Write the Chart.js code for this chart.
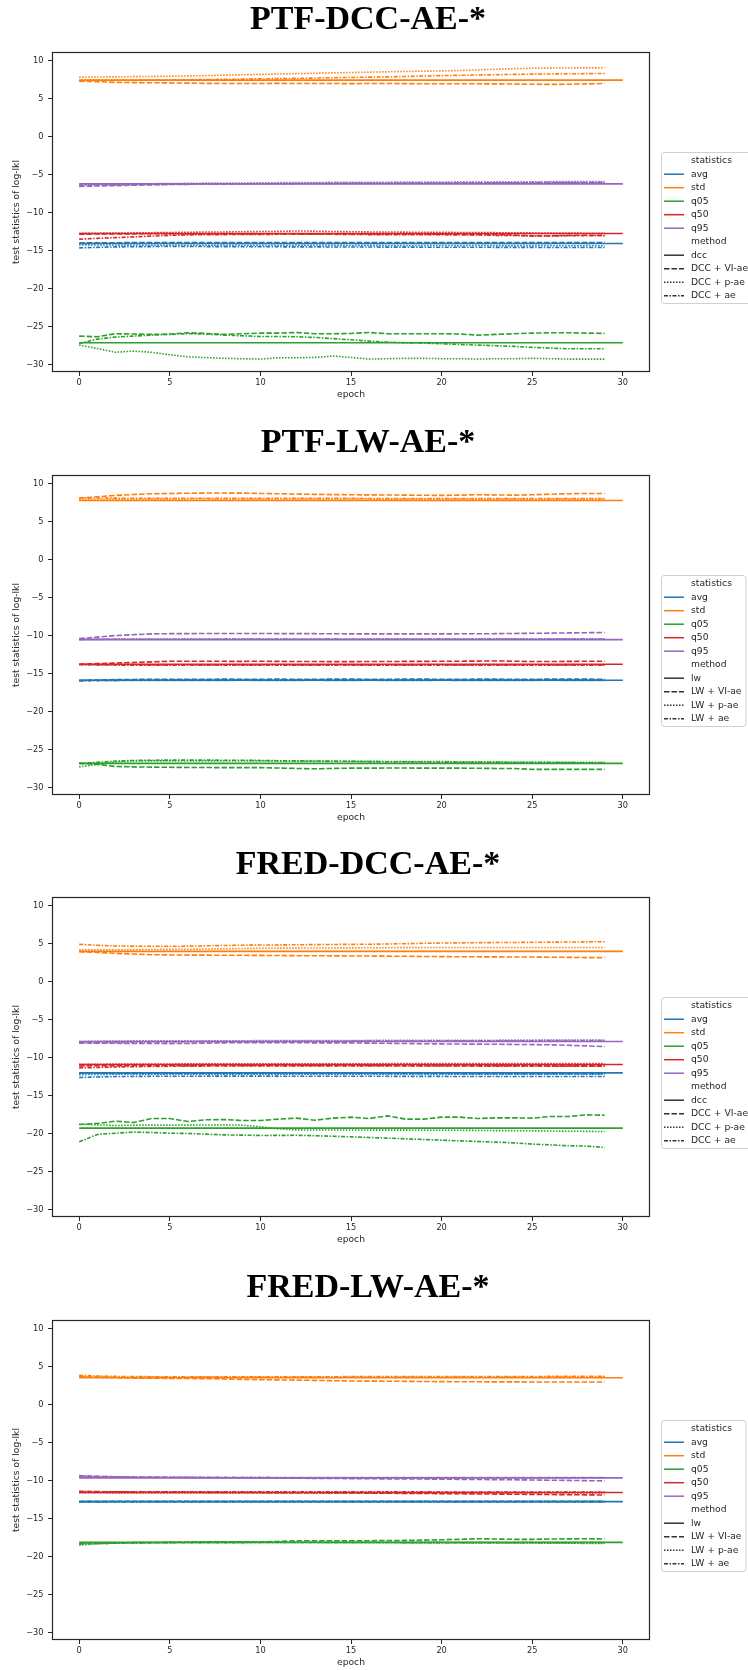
<!DOCTYPE html>
<html>
<head>
<meta charset="utf-8">
<script src="https://cdn.jsdelivr.net/npm/chart.js@4.4.1/dist/chart.umd.min.js"></script>
<style>
  body { margin: 0; background: #fff; width: 748px; height: 1670px; overflow: hidden; position: relative; }
  canvas { position: absolute; left: 0; }
</style>
</head>
<body>
<canvas id="chart0" width="748" height="423" style="top:0px"></canvas>
<canvas id="chart1" width="748" height="423" style="top:423px"></canvas>
<canvas id="chart2" width="748" height="423" style="top:845px"></canvas>
<canvas id="chart3" width="748" height="423" style="top:1268px"></canvas>
<script>
// ---- axes / categories ----
const epochs = [0,1,2,3,4,5,6,7,8,9,10,11,12,13,14,15,16,17,18,19,20,21,22,23,24,25,26,27,28,29];
const baseEpochs = [0, 30];
const xTicks = [0, 5, 10, 15, 20, 25, 30];
const yTicks = [-30, -25, -20, -15, -10, -5, 0, 5, 10];
const statNames = ['avg', 'std', 'q05', 'q50', 'q95'];
const statColors = ['#1f77b4', '#ff7f0e', '#2ca02c', '#d62728', '#9467bd'];
const titles = ['PTF-DCC-AE-*', 'PTF-LW-AE-*', 'FRED-DCC-AE-*', 'FRED-LW-AE-*'];
const dccMethods = ['dcc', 'DCC + VI-ae', 'DCC + p-ae', 'DCC + ae'];
const lwMethods = ['lw', 'LW + VI-ae', 'LW + p-ae', 'LW + ae'];

// ---- PTF-DCC-AE-* ----
// baseline (flat over epochs 0..30): avg, std, q05, q50, q95
const p1Base = [-14.08, 7.45, -27.15, -12.76, -6.22];
const p1AvgVI = [-14.0,-13.98,-13.97,-13.96,-13.95,-13.95,-13.95,-13.94,-13.95,-13.95,-13.94,-13.95,-13.95,-13.94,-13.95,-13.95,-13.94,-13.95,-13.95,-13.95,-13.96,-13.95,-13.95,-13.95,-13.94,-13.95,-13.95,-13.95,-13.94,-13.95];
const p1AvgP = [-14.25,-14.27,-14.28,-14.3,-14.3,-14.3,-14.31,-14.3,-14.3,-14.31,-14.32,-14.3,-14.3,-14.31,-14.32,-14.33,-14.32,-14.33,-14.34,-14.33,-14.34,-14.35,-14.34,-14.35,-14.36,-14.35,-14.36,-14.37,-14.36,-14.37];
const p1AvgAE = [-14.65,-14.58,-14.52,-14.5,-14.48,-14.47,-14.47,-14.48,-14.48,-14.5,-14.5,-14.51,-14.52,-14.52,-14.53,-14.54,-14.54,-14.55,-14.55,-14.56,-14.56,-14.57,-14.57,-14.58,-14.58,-14.59,-14.6,-14.6,-14.6,-14.6];
const p1StdVI = [7.3,7.25,7.15,7.12,7.1,7.08,7.05,7.02,7.0,7.0,7.0,7.02,7.0,7.0,7.0,6.98,7.0,7.0,6.98,6.97,6.97,6.97,6.96,6.95,6.93,6.9,6.88,6.9,6.95,7.0];
const p1StdP = [7.84,7.86,7.88,7.9,7.93,7.97,8.0,8.05,8.1,8.15,8.2,8.25,8.3,8.35,8.4,8.45,8.5,8.54,8.58,8.62,8.66,8.72,8.8,8.88,8.95,9.0,9.03,9.05,9.06,9.07];
const p1StdAE = [7.4,7.42,7.42,7.43,7.45,7.47,7.5,7.52,7.55,7.58,7.62,7.65,7.68,7.72,7.76,7.8,7.84,7.88,7.93,7.98,8.04,8.08,8.12,8.16,8.2,8.23,8.26,8.28,8.3,8.32];
const p1Q05VI = [-26.27,-26.36,-25.96,-26.0,-26.05,-26.0,-25.83,-25.92,-26.05,-25.96,-25.88,-25.88,-25.8,-25.96,-25.96,-25.92,-25.8,-25.96,-25.96,-25.96,-25.96,-26.0,-26.14,-26.05,-25.96,-25.88,-25.83,-25.83,-25.88,-25.92];
const p1Q05P = [-27.46,-27.9,-28.4,-28.25,-28.4,-28.73,-29.0,-29.1,-29.2,-29.25,-29.3,-29.12,-29.12,-29.08,-28.9,-29.08,-29.3,-29.25,-29.2,-29.2,-29.25,-29.25,-29.3,-29.25,-29.25,-29.2,-29.25,-29.3,-29.3,-29.3];
const p1Q05AE = [-27.24,-26.67,-26.4,-26.27,-26.14,-26.05,-25.96,-26.0,-26.14,-26.23,-26.32,-26.32,-26.36,-26.45,-26.6,-26.76,-26.93,-27.06,-27.15,-27.2,-27.28,-27.37,-27.46,-27.54,-27.63,-27.76,-27.85,-27.94,-27.94,-27.94];
const p1Q50VI = [-12.85,-12.82,-12.8,-12.8,-12.78,-12.78,-12.8,-12.8,-12.82,-12.8,-12.8,-12.78,-12.8,-12.8,-12.82,-12.8,-12.8,-12.82,-12.84,-12.85,-12.85,-12.86,-12.88,-12.9,-12.95,-13.05,-13.05,-13.0,-12.98,-12.98];
const p1Q50P = [-12.75,-12.72,-12.7,-12.68,-12.65,-12.62,-12.6,-12.55,-12.55,-12.52,-12.5,-12.48,-12.42,-12.45,-12.5,-12.52,-12.55,-12.55,-12.58,-12.6,-12.6,-12.62,-12.62,-12.65,-12.65,-12.68,-12.7,-12.7,-12.72,-12.72];
const p1Q50AE = [-13.5,-13.4,-13.3,-13.2,-13.1,-13.0,-12.95,-12.9,-12.9,-12.88,-12.88,-12.86,-12.85,-12.85,-12.86,-12.88,-12.9,-12.9,-12.9,-12.92,-12.92,-12.95,-12.95,-13.0,-13.02,-13.1,-13.08,-13.05,-13.05,-13.05];
const p1Q95VI = [-6.55,-6.5,-6.45,-6.4,-6.35,-6.3,-6.28,-6.25,-6.25,-6.22,-6.2,-6.2,-6.18,-6.18,-6.16,-6.15,-6.15,-6.14,-6.13,-6.12,-6.12,-6.1,-6.1,-6.08,-6.07,-6.06,-6.05,-6.05,-6.05,-6.05];
const p1Q95P = [-6.3,-6.28,-6.25,-6.22,-6.2,-6.18,-6.15,-6.12,-6.1,-6.1,-6.08,-6.06,-6.05,-6.04,-6.02,-6.0,-6.0,-6.0,-5.98,-5.98,-5.97,-5.96,-5.95,-5.95,-5.95,-5.94,-5.93,-5.93,-5.92,-5.92];
const p1Q95AE = [-6.4,-6.38,-6.35,-6.32,-6.3,-6.28,-6.25,-6.24,-6.22,-6.2,-6.2,-6.18,-6.17,-6.16,-6.15,-6.14,-6.14,-6.13,-6.12,-6.12,-6.1,-6.1,-6.1,-6.08,-6.08,-6.07,-6.06,-6.05,-6.05,-6.05];

// ---- PTF-LW-AE-* ----
const p2Base = [-15.88, 7.8, -26.84, -13.77, -10.53];
const p2AvgVI = [-15.92,-15.85,-15.8,-15.78,-15.76,-15.75,-15.75,-15.75,-15.74,-15.75,-15.75,-15.74,-15.75,-15.75,-15.74,-15.74,-15.75,-15.75,-15.74,-15.74,-15.75,-15.75,-15.74,-15.74,-15.75,-15.75,-15.74,-15.74,-15.74,-15.75];
const p2AvgP = [-15.9,-15.88,-15.86,-15.85,-15.85,-15.84,-15.84,-15.85,-15.84,-15.84,-15.84,-15.85,-15.84,-15.84,-15.84,-15.85,-15.84,-15.84,-15.83,-15.84,-15.84,-15.84,-15.83,-15.84,-15.84,-15.84,-15.83,-15.83,-15.84,-15.84];
const p2AvgAE = [-15.98,-15.95,-15.93,-15.92,-15.91,-15.9,-15.9,-15.9,-15.9,-15.89,-15.9,-15.9,-15.9,-15.89,-15.9,-15.9,-15.89,-15.9,-15.9,-15.9,-15.89,-15.9,-15.9,-15.9,-15.9,-15.9,-15.89,-15.9,-15.9,-15.9];
const p2StdVI = [8.1,8.28,8.46,8.58,8.68,8.72,8.75,8.77,8.77,8.76,8.72,8.68,8.64,8.6,8.57,8.55,8.53,8.52,8.5,8.48,8.46,8.5,8.55,8.52,8.5,8.55,8.62,8.68,8.72,8.72];
const p2StdP = [7.9,7.92,7.95,7.96,7.97,7.97,7.98,7.98,7.98,7.98,7.99,7.98,7.98,7.98,7.98,7.98,7.98,7.97,7.97,7.97,7.97,7.97,7.97,7.97,7.97,7.97,7.97,7.97,7.97,7.97];
const p2StdAE = [8.15,8.12,8.1,8.09,8.08,8.08,8.08,8.08,8.07,8.07,8.07,8.07,8.07,8.07,8.07,8.07,8.06,8.06,8.06,8.06,8.06,8.06,8.06,8.06,8.06,8.06,8.06,8.06,8.06,8.06];
const p2Q05VI = [-26.84,-26.97,-27.24,-27.3,-27.33,-27.35,-27.37,-27.38,-27.4,-27.4,-27.4,-27.45,-27.5,-27.55,-27.5,-27.46,-27.46,-27.45,-27.45,-27.46,-27.46,-27.46,-27.48,-27.5,-27.5,-27.63,-27.63,-27.63,-27.63,-27.63];
const p2Q05P = [-27.3,-26.97,-26.65,-26.5,-26.5,-26.5,-26.52,-26.52,-26.53,-26.53,-26.53,-26.53,-26.55,-26.55,-26.55,-26.56,-26.57,-26.58,-26.58,-26.6,-26.6,-26.62,-26.63,-26.64,-26.65,-26.66,-26.68,-26.69,-26.7,-26.7];
const p2Q05AE = [-26.84,-26.7,-26.53,-26.45,-26.42,-26.4,-26.4,-26.4,-26.42,-26.42,-26.45,-26.48,-26.5,-26.52,-26.54,-26.57,-26.6,-26.62,-26.63,-26.65,-26.66,-26.68,-26.7,-26.7,-26.72,-26.72,-26.73,-26.74,-26.75,-26.75];
const p2Q50VI = [-13.77,-13.7,-13.62,-13.55,-13.47,-13.38,-13.38,-13.38,-13.39,-13.4,-13.38,-13.4,-13.42,-13.42,-13.43,-13.43,-13.42,-13.42,-13.4,-13.4,-13.38,-13.38,-13.36,-13.34,-13.38,-13.42,-13.42,-13.4,-13.38,-13.38];
const p2Q50P = [-13.82,-13.84,-13.85,-13.85,-13.85,-13.86,-13.85,-13.85,-13.86,-13.86,-13.85,-13.85,-13.86,-13.86,-13.85,-13.85,-13.86,-13.86,-13.86,-13.85,-13.85,-13.86,-13.86,-13.86,-13.85,-13.85,-13.86,-13.86,-13.86,-13.86];
const p2Q50AE = [-13.82,-13.86,-13.88,-13.9,-13.9,-13.9,-13.91,-13.9,-13.9,-13.91,-13.9,-13.9,-13.9,-13.91,-13.9,-13.9,-13.9,-13.91,-13.9,-13.9,-13.9,-13.91,-13.9,-13.9,-13.9,-13.9,-13.91,-13.9,-13.9,-13.9];
const p2Q95VI = [-10.4,-10.2,-10.0,-9.88,-9.78,-9.75,-9.74,-9.73,-9.73,-9.73,-9.73,-9.74,-9.75,-9.75,-9.76,-9.78,-9.78,-9.78,-9.78,-9.78,-9.78,-9.77,-9.76,-9.75,-9.72,-9.7,-9.68,-9.65,-9.62,-9.6];
const p2Q95P = [-10.5,-10.48,-10.46,-10.45,-10.45,-10.45,-10.44,-10.45,-10.45,-10.44,-10.44,-10.45,-10.45,-10.44,-10.44,-10.45,-10.44,-10.44,-10.44,-10.45,-10.44,-10.44,-10.44,-10.43,-10.44,-10.44,-10.43,-10.43,-10.44,-10.43];
const p2Q95AE = [-10.52,-10.5,-10.49,-10.48,-10.48,-10.48,-10.48,-10.48,-10.47,-10.48,-10.48,-10.47,-10.48,-10.48,-10.47,-10.48,-10.48,-10.47,-10.48,-10.47,-10.47,-10.48,-10.47,-10.47,-10.47,-10.48,-10.47,-10.47,-10.47,-10.47];

// ---- FRED-DCC-AE-* ----
const p3Base = [-12.02, 3.99, -19.3, -10.92, -7.89];
const p3AvgVI = [-12.05,-12.07,-12.08,-12.09,-12.1,-12.1,-12.1,-12.1,-12.1,-12.1,-12.1,-12.1,-12.1,-12.1,-12.1,-12.1,-12.1,-12.1,-12.1,-12.1,-12.1,-12.11,-12.11,-12.11,-12.11,-12.11,-12.11,-12.11,-12.11,-12.11];
const p3AvgP = [-12.25,-12.22,-12.2,-12.2,-12.2,-12.2,-12.2,-12.2,-12.2,-12.2,-12.2,-12.2,-12.2,-12.2,-12.2,-12.2,-12.2,-12.2,-12.2,-12.2,-12.2,-12.2,-12.2,-12.2,-12.2,-12.2,-12.2,-12.2,-12.2,-12.2];
const p3AvgAE = [-12.63,-12.55,-12.5,-12.48,-12.47,-12.46,-12.46,-12.45,-12.45,-12.45,-12.45,-12.45,-12.46,-12.46,-12.46,-12.47,-12.47,-12.47,-12.48,-12.48,-12.48,-12.49,-12.49,-12.49,-12.5,-12.5,-12.5,-12.5,-12.5,-12.5];
const p3StdVI = [3.95,3.85,3.73,3.64,3.55,3.52,3.5,3.49,3.48,3.47,3.46,3.44,3.42,3.41,3.4,3.38,3.37,3.36,3.34,3.32,3.3,3.28,3.27,3.26,3.25,3.24,3.22,3.2,3.17,3.15];
const p3StdP = [4.2,4.18,4.2,4.22,4.24,4.25,4.27,4.3,4.33,4.37,4.4,4.41,4.42,4.43,4.44,4.45,4.46,4.47,4.48,4.49,4.5,4.5,4.5,4.5,4.5,4.5,4.5,4.5,4.5,4.5];
const p3StdAE = [4.91,4.8,4.7,4.68,4.66,4.66,4.68,4.72,4.76,4.8,4.82,4.84,4.86,4.88,4.9,4.91,4.93,4.96,5.0,5.05,5.09,5.11,5.13,5.15,5.16,5.18,5.2,5.22,5.24,5.26];
const p3Q05VI = [-18.82,-18.68,-18.38,-18.55,-18.03,-18.03,-18.42,-18.2,-18.16,-18.29,-18.29,-18.11,-17.98,-18.25,-17.98,-17.85,-18.03,-17.68,-18.11,-18.11,-17.85,-17.85,-18.03,-17.94,-17.94,-17.98,-17.76,-17.76,-17.55,-17.59];
const p3Q05P = [-18.77,-18.86,-18.95,-18.9,-18.9,-18.9,-18.9,-18.88,-18.86,-18.9,-19.12,-19.39,-19.52,-19.55,-19.55,-19.55,-19.55,-19.56,-19.56,-19.57,-19.57,-19.58,-19.6,-19.62,-19.63,-19.65,-19.67,-19.7,-19.72,-19.74];
const p3Q05AE = [-21.1,-20.13,-19.96,-19.82,-19.87,-19.96,-20.0,-20.09,-20.18,-20.22,-20.26,-20.25,-20.24,-20.3,-20.36,-20.44,-20.53,-20.61,-20.7,-20.79,-20.88,-20.97,-21.05,-21.14,-21.23,-21.4,-21.5,-21.62,-21.66,-21.84];
const p3Q50VI = [-11.1,-11.08,-11.06,-11.05,-11.04,-11.05,-11.06,-11.05,-11.04,-11.04,-11.05,-11.04,-11.03,-11.03,-11.04,-11.04,-11.04,-11.05,-11.05,-11.06,-11.06,-11.06,-11.07,-11.07,-11.08,-11.08,-11.09,-11.1,-11.1,-11.1];
const p3Q50P = [-10.9,-10.88,-10.86,-10.85,-10.84,-10.84,-10.83,-10.83,-10.83,-10.82,-10.82,-10.82,-10.82,-10.81,-10.81,-10.81,-10.81,-10.8,-10.8,-10.8,-10.8,-10.8,-10.8,-10.8,-10.8,-10.8,-10.8,-10.8,-10.8,-10.8];
const p3Q50AE = [-11.36,-11.3,-11.24,-11.2,-11.17,-11.15,-11.13,-11.12,-11.11,-11.1,-11.1,-11.1,-11.1,-11.1,-11.1,-11.1,-11.1,-11.1,-11.11,-11.11,-11.12,-11.12,-11.12,-11.13,-11.13,-11.13,-11.14,-11.14,-11.14,-11.14];
const p3Q95VI = [-8.07,-8.1,-8.12,-8.14,-8.15,-8.16,-8.14,-8.1,-8.06,-8.04,-8.03,-8.04,-8.05,-8.06,-8.06,-8.07,-8.1,-8.12,-8.15,-8.18,-8.2,-8.22,-8.23,-8.25,-8.27,-8.29,-8.32,-8.38,-8.46,-8.55];
const p3Q95P = [-7.89,-7.85,-7.82,-7.8,-7.8,-7.8,-7.79,-7.78,-7.78,-7.78,-7.77,-7.77,-7.76,-7.76,-7.75,-7.75,-7.74,-7.74,-7.73,-7.73,-7.72,-7.72,-7.71,-7.71,-7.7,-7.7,-7.69,-7.69,-7.68,-7.68];
const p3Q95AE = [-8.1,-8.05,-8.0,-7.98,-7.96,-7.94,-7.92,-7.9,-7.9,-7.89,-7.88,-7.87,-7.86,-7.85,-7.85,-7.84,-7.83,-7.82,-7.82,-7.81,-7.8,-7.8,-7.79,-7.79,-7.78,-7.78,-7.77,-7.77,-7.76,-7.76];

// ---- FRED-LW-AE-* ----
const p4Base = [-12.77, 3.55, -18.14, -11.58, -9.65];
const p4AvgVI = [-12.75,-12.74,-12.73,-12.73,-12.73,-12.73,-12.73,-12.73,-12.73,-12.73,-12.73,-12.73,-12.73,-12.73,-12.73,-12.73,-12.73,-12.73,-12.73,-12.73,-12.73,-12.73,-12.73,-12.73,-12.73,-12.73,-12.73,-12.73,-12.73,-12.73];
const p4AvgP = [-12.78,-12.77,-12.77,-12.77,-12.77,-12.77,-12.77,-12.77,-12.77,-12.77,-12.77,-12.77,-12.77,-12.77,-12.77,-12.77,-12.77,-12.77,-12.77,-12.77,-12.77,-12.77,-12.77,-12.77,-12.77,-12.77,-12.77,-12.77,-12.77,-12.77];
const p4AvgAE = [-12.82,-12.81,-12.8,-12.8,-12.8,-12.8,-12.8,-12.8,-12.8,-12.8,-12.8,-12.8,-12.8,-12.8,-12.8,-12.8,-12.8,-12.8,-12.8,-12.8,-12.8,-12.8,-12.8,-12.8,-12.8,-12.8,-12.8,-12.8,-12.8,-12.8];
const p4StdVI = [3.73,3.62,3.55,3.5,3.48,3.46,3.44,3.42,3.38,3.33,3.29,3.26,3.23,3.2,3.15,3.11,3.1,3.09,3.07,3.05,3.03,3.02,3.01,3.0,3.0,2.99,2.99,2.98,2.98,2.98];
const p4StdP = [3.66,3.64,3.63,3.62,3.62,3.62,3.62,3.62,3.62,3.62,3.62,3.62,3.62,3.62,3.62,3.62,3.62,3.62,3.62,3.62,3.62,3.62,3.62,3.62,3.62,3.62,3.62,3.62,3.62,3.62];
const p4StdAE = [3.86,3.78,3.72,3.7,3.68,3.68,3.68,3.68,3.68,3.68,3.68,3.68,3.68,3.68,3.68,3.69,3.69,3.69,3.69,3.7,3.7,3.7,3.7,3.71,3.71,3.71,3.72,3.72,3.73,3.73];
const p4Q05VI = [-18.28,-18.25,-18.2,-18.18,-18.16,-18.14,-18.12,-18.08,-18.05,-18.07,-18.1,-18.02,-17.93,-17.93,-17.93,-17.93,-17.92,-17.9,-17.88,-17.84,-17.8,-17.74,-17.66,-17.7,-17.74,-17.74,-17.7,-17.68,-17.66,-17.7];
const p4Q05P = [-18.5,-18.33,-18.22,-18.18,-18.16,-18.14,-18.12,-18.1,-18.1,-18.1,-18.1,-18.11,-18.12,-18.13,-18.14,-18.14,-18.15,-18.16,-18.17,-18.18,-18.18,-18.2,-18.21,-18.22,-18.23,-18.23,-18.25,-18.26,-18.27,-18.28];
const p4Q05AE = [-18.36,-18.3,-18.25,-18.22,-18.2,-18.2,-18.18,-18.18,-18.17,-18.17,-18.16,-18.16,-18.16,-18.16,-18.16,-18.16,-18.16,-18.16,-18.17,-18.17,-18.17,-18.17,-18.17,-18.18,-18.18,-18.18,-18.18,-18.18,-18.18,-18.18];
const p4Q50VI = [-11.45,-11.46,-11.48,-11.5,-11.51,-11.53,-11.54,-11.55,-11.56,-11.57,-11.58,-11.59,-11.6,-11.61,-11.62,-11.64,-11.65,-11.67,-11.69,-11.7,-11.72,-11.74,-11.76,-11.78,-11.8,-11.82,-11.84,-11.86,-11.88,-11.9];
const p4Q50P = [-11.6,-11.61,-11.62,-11.62,-11.62,-11.62,-11.62,-11.62,-11.62,-11.62,-11.62,-11.62,-11.62,-11.62,-11.62,-11.62,-11.62,-11.62,-11.62,-11.62,-11.62,-11.62,-11.62,-11.62,-11.62,-11.62,-11.62,-11.62,-11.62,-11.62];
const p4Q50AE = [-11.45,-11.47,-11.48,-11.49,-11.49,-11.49,-11.49,-11.49,-11.49,-11.49,-11.49,-11.49,-11.49,-11.49,-11.49,-11.49,-11.49,-11.49,-11.49,-11.49,-11.5,-11.5,-11.5,-11.5,-11.5,-11.5,-11.5,-11.5,-11.5,-11.5];
const p4Q95VI = [-9.39,-9.45,-9.5,-9.52,-9.54,-9.56,-9.58,-9.6,-9.62,-9.64,-9.65,-9.67,-9.69,-9.71,-9.73,-9.74,-9.76,-9.78,-9.79,-9.8,-9.82,-9.84,-9.86,-9.88,-9.9,-9.92,-9.95,-9.98,-10.01,-10.04];
const p4Q95P = [-9.47,-9.52,-9.55,-9.57,-9.58,-9.6,-9.6,-9.62,-9.63,-9.64,-9.65,-9.65,-9.65,-9.65,-9.65,-9.65,-9.65,-9.65,-9.64,-9.64,-9.64,-9.64,-9.63,-9.63,-9.63,-9.63,-9.62,-9.62,-9.62,-9.62];
const p4Q95AE = [-9.34,-9.45,-9.5,-9.55,-9.56,-9.57,-9.57,-9.58,-9.58,-9.58,-9.58,-9.59,-9.59,-9.59,-9.59,-9.59,-9.6,-9.6,-9.6,-9.6,-9.6,-9.6,-9.6,-9.6,-9.6,-9.6,-9.6,-9.6,-9.6,-9.6];

// line styles for the method (solid, VI-ae, p-ae, ae)
const methodDashes = [[], [5.5, 2], [1.5, 1.5], [4, 1.5, 1.5, 1.5]];
const textColor = '#262626';

const panels = [
    { title: titles[0], methods: dccMethods, base: p1Base, series: [
        [p1AvgVI, p1AvgP, p1AvgAE], [p1StdVI, p1StdP, p1StdAE], [p1Q05VI, p1Q05P, p1Q05AE],
        [p1Q50VI, p1Q50P, p1Q50AE], [p1Q95VI, p1Q95P, p1Q95AE]] },
    { title: titles[1], methods: lwMethods, base: p2Base, series: [
        [p2AvgVI, p2AvgP, p2AvgAE], [p2StdVI, p2StdP, p2StdAE], [p2Q05VI, p2Q05P, p2Q05AE],
        [p2Q50VI, p2Q50P, p2Q50AE], [p2Q95VI, p2Q95P, p2Q95AE]] },
    { title: titles[2], methods: dccMethods, base: p3Base, series: [
        [p3AvgVI, p3AvgP, p3AvgAE], [p3StdVI, p3StdP, p3StdAE], [p3Q05VI, p3Q05P, p3Q05AE],
        [p3Q50VI, p3Q50P, p3Q50AE], [p3Q95VI, p3Q95P, p3Q95AE]] },
    { title: titles[3], methods: lwMethods, base: p4Base, series: [
        [p4AvgVI, p4AvgP, p4AvgAE], [p4StdVI, p4StdP, p4StdAE], [p4Q05VI, p4Q05P, p4Q05AE],
        [p4Q50VI, p4Q50P, p4Q50AE], [p4Q95VI, p4Q95P, p4Q95AE]] }
];

function fmtTick(v) {
    return v < 0 ? '\u2212' + Math.abs(v) : String(v);
}

// frame, title and the two-section legend (seaborn style)
function decorPlugin(panel) {
    return {
        id: 'decor',
        afterDraw(chart) {
            const { ctx, chartArea: a } = chart;
            ctx.save();
            // spines
            ctx.strokeStyle = textColor;
            ctx.lineWidth = 1.2;
            ctx.strokeRect(Math.round(a.left) + 0.5, Math.round(a.top) + 0.5,
                Math.round(a.right - a.left) - 1, Math.round(a.bottom - a.top) - 1);

            // title
            ctx.fillStyle = '#000';
            ctx.font = 'bold 34px "Liberation Serif", "DejaVu Serif", serif';
            ctx.textAlign = 'center';
            ctx.textBaseline = 'alphabetic';
            ctx.fillText(panel.title, 368, a.top - 23);

            // legend
            const entries = [{ label: 'statistics' }];
            statNames.forEach((s, i) => entries.push({ label: s, color: statColors[i], dash: [] }));
            entries.push({ label: 'method' });
            panel.methods.forEach((m, i) => entries.push({ label: m, color: '#333333', dash: methodDashes[i] }));

            ctx.font = '9.2px "DejaVu Sans", sans-serif';
            let maxW = 0;
            entries.forEach(e => { maxW = Math.max(maxW, ctx.measureText(e.label).width); });
            const bx = 661.5, by = a.top + 100.5, bw = 691 + maxW + 4 - 661, bh = 151;
            ctx.beginPath();
            ctx.roundRect(bx, by, bw, bh, 3);
            ctx.fillStyle = 'rgba(255,255,255,0.85)';
            ctx.fill();
            ctx.strokeStyle = '#d0d0d0';
            ctx.lineWidth = 1;
            ctx.stroke();

            ctx.textAlign = 'left';
            ctx.textBaseline = 'middle';
            entries.forEach((e, i) => {
                const y = a.top + 108.7 + i * 13.5;
                if (e.color) {
                    ctx.beginPath();
                    ctx.setLineDash(e.dash);
                    ctx.strokeStyle = e.color;
                    ctx.lineWidth = 1.5;
                    ctx.moveTo(664, y);
                    ctx.lineTo(684, y);
                    ctx.stroke();
                    ctx.setLineDash([]);
                }
                ctx.fillStyle = textColor;
                ctx.fillText(e.label, 691, y);
            });
            ctx.restore();
        }
    };
}

function buildDatasets(panel) {
    const sets = [];
    statNames.forEach((stat, si) => {
        sets.push({
            label: stat + ' ' + panel.methods[0],
            data: baseEpochs.map(x => ({ x: x, y: panel.base[si] })),
            borderColor: statColors[si],
            borderDash: methodDashes[0]
        });
        panel.series[si].forEach((vals, mi) => {
            sets.push({
                label: stat + ' ' + panel.methods[mi + 1],
                data: vals.map((v, k) => ({ x: epochs[k], y: v })),
                borderColor: statColors[si],
                borderDash: methodDashes[mi + 1]
            });
        });
    });
    return sets;
}

panels.forEach((panel, idx) => {
    const canvas = document.getElementById('chart' + idx);
    new Chart(canvas, {
        type: 'line',
        data: { datasets: buildDatasets(panel) },
        options: {
            responsive: false,
            animation: false,
            events: [],
            layout: { padding: { left: 0, right: 98, top: 52, bottom: 0 } },
            elements: {
                line: { borderWidth: 1.6, tension: 0, fill: false, borderCapStyle: 'butt' },
                point: { radius: 0 }
            },
            plugins: { legend: { display: false }, tooltip: { enabled: false }, title: { display: false } },
            scales: {
                x: {
                    type: 'linear',
                    min: -1.5,
                    max: 31.5,
                    afterBuildTicks: s => { s.ticks = xTicks.map(v => ({ value: v })); },
                    afterFit: s => { s.height = 51; },
                    border: { display: false },
                    grid: { drawOnChartArea: false, drawTicks: true, tickLength: 4, color: textColor, lineWidth: 1 },
                    ticks: { font: { family: 'DejaVu Sans', size: 8.2 }, color: textColor, padding: 2, maxRotation: 0,
                        callback: v => fmtTick(v) },
                    title: { display: true, text: 'epoch', color: textColor,
                        font: { family: 'DejaVu Sans', size: 9.2 }, padding: { top: 0, bottom: 23 } }
                },
                y: {
                    type: 'linear',
                    min: -31.0,
                    max: 11.15,
                    afterBuildTicks: s => { s.ticks = yTicks.map(v => ({ value: v })); },
                    afterFit: s => { s.width = 52; },
                    border: { display: false },
                    grid: { drawOnChartArea: false, drawTicks: true, tickLength: 4, color: textColor, lineWidth: 1 },
                    ticks: { font: { family: 'DejaVu Sans', size: 8.2 }, color: textColor, padding: 4.5,
                        callback: v => fmtTick(v) },
                    title: { display: true, text: 'test statistics of log-lkl', color: textColor,
                        font: { family: 'DejaVu Sans', size: 9.2 }, padding: { top: 11, bottom: 0 } }
                }
            }
        },
        plugins: [decorPlugin(panel)]
    });
});
</script>
</body>
</html>
